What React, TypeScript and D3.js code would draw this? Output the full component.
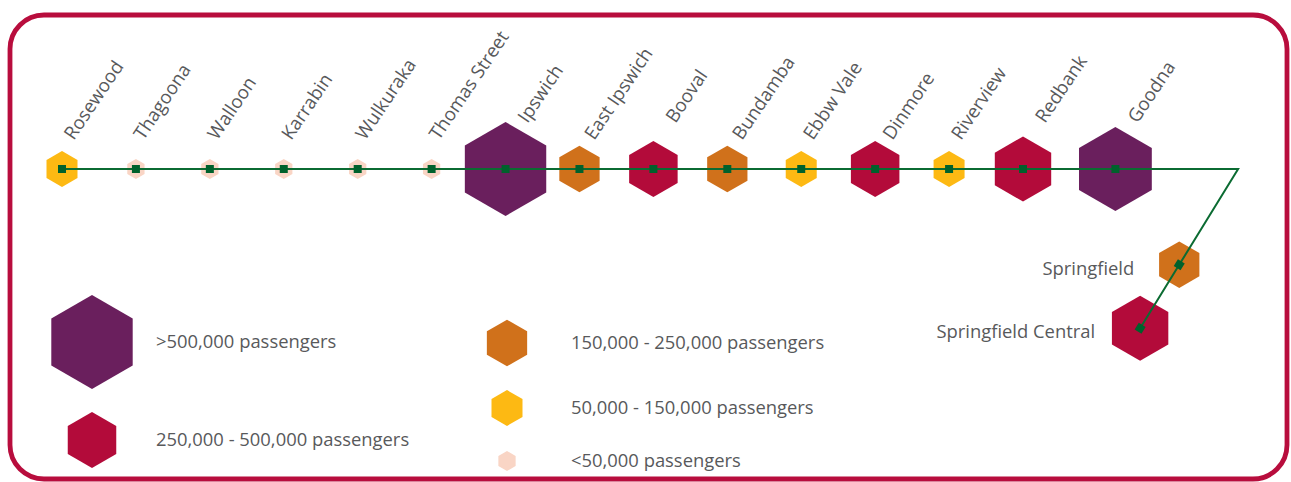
import React from "react";
import * as d3 from "d3";

// ---- Data ----
const mainStations = [
  "Rosewood", "Thagoona", "Walloon", "Karrabin", "Wulkuraka", "Thomas Street",
  "Ipswich", "East Ipswich", "Booval", "Bundamba", "Ebbw Vale", "Dinmore",
  "Riverview", "Redbank", "Goodna",
];
const mainPassengers = [
  145000, 45000, 45000, 45000, 45000, 45000,
  1000000, 245000, 355000, 245000, 145000, 355000,
  145000, 480000, 800000,
];
const branchStations = ["Springfield", "Springfield Central"];
const branchPassengers = [245000, 480000];

const bandThresholds = [50000, 150000, 250000, 500000];
const bandColors = ["#F9D5C5", "#FDB913", "#D0711B", "#B30B3A", "#6A1F5D"];

const legendLabels = [
  ">500,000 passengers",
  "250,000 - 500,000 passengers",
  "150,000 - 250,000 passengers",
  "50,000 - 150,000 passengers",
  "<50,000 passengers",
];
const legendSampleValues = [1000000, 355000, 245000, 145000, 45000];

// ---- Component ----
const TEXT = "#58595B";
const FONT = "'Open Sans', sans-serif";

function hexPath(cx: number, cy: number, rad: number): string {
  const pts: [number, number][] = d3.range(6).map((k) => {
    const a = ((-90 + 60 * k) * Math.PI) / 180;
    return [cx + rad * Math.cos(a), cy + rad * Math.sin(a)];
  });
  return d3.line().curve(d3.curveLinearClosed)(pts) as string;
}

export default function App() {
  const W = 1291;
  const H = 482;
  const lineY = 169;

  const x = d3.scaleLinear().domain([0, 13]).range([62, 1023]);
  const r = d3.scaleSqrt().domain([0, 1000000]).range([0, 47]);
  const color = d3
    .scaleThreshold<number, string>()
    .domain(bandThresholds)
    .range(bandColors);

  const step = x(1) - x(0);
  const slotOf = (i: number) => (i < 14 ? i : i + 0.25);
  const cornerSlot = 15.91;
  const corner: [number, number] = [x(cornerSlot), lineY];
  const branchAngleDeg = 121.6;
  const ba = (branchAngleDeg * Math.PI) / 180;
  const branchDist = [1.52, 2.53];

  const raised = new Set(["Ipswich", "Booval", "Redbank", "Goodna"]);

  const main = mainStations.map((name, i) => ({
    name,
    v: mainPassengers[i],
    cx: x(slotOf(i)),
    cy: lineY,
  }));
  const branch = branchStations.map((name, i) => ({
    name,
    v: branchPassengers[i],
    cx: corner[0] + Math.cos(ba) * branchDist[i] * step,
    cy: corner[1] + Math.sin(ba) * branchDist[i] * step,
  }));
  const last = branch[branch.length - 1];

  const trackPath = d3.line()([
    [main[0].cx, lineY],
    corner,
    [last.cx, last.cy],
  ]) as string;

  const legendPos = [
    { cx: 92, cy: 342 },
    { cx: 92, cy: 440 },
    { cx: 507, cy: 343 },
    { cx: 507, cy: 408 },
    { cx: 507, cy: 461 },
  ];

  return (
    <svg
      width={W}
      height={H}
      style={{ position: "absolute", left: 0, top: 0, display: "block", background: "#fff" }}
      fontFamily={FONT}
    >
      <rect
        x={10}
        y={15}
        width={1277}
        height={464}
        rx={34}
        ry={34}
        fill="#fff"
        stroke="#B80D3D"
        strokeWidth={4.8}
      />

      {/* hexagons */}
      {[...main, ...branch].map((s) => (
        <path key={"h" + s.name} d={hexPath(s.cx, s.cy, r(s.v))} fill={color(s.v)} />
      ))}

      {/* track */}
      <path d={trackPath} fill="none" stroke="#0B6B32" strokeWidth={2} />

      {/* station squares */}
      {main.map((s) => (
        <rect key={"s" + s.name} x={s.cx - 4} y={s.cy - 4} width={8} height={8} fill="#00612C" />
      ))}
      {branch.map((s) => (
        <rect
          key={"s" + s.name}
          x={-4}
          y={-4}
          width={8}
          height={8}
          fill="#00612C"
          transform={`translate(${s.cx},${s.cy}) rotate(${branchAngleDeg})`}
        />
      ))}

      {/* main line labels */}
      {main.map((s) => {
        const rad = r(s.v);
        const up = raised.has(s.name);
        const lx = s.cx + (up ? 22 : 0.55 * rad + 2);
        const ly = up ? 124 : 141;
        return (
          <text
            key={"l" + s.name}
            transform={`translate(${lx},${ly}) rotate(-56)`}
            fontSize={18.6}
            fill={TEXT}
          >
            {s.name}
          </text>
        );
      })}

      {/* branch labels */}
      {branch.map((s) => (
        <text
          key={"l" + s.name}
          x={s.cx - 45}
          y={s.cy + 10}
          textAnchor="end"
          fontSize={18.4}
          fill={TEXT}
        >
          {s.name}
        </text>
      ))}

      {/* legend */}
      {legendLabels.map((lab, i) => {
        const p = legendPos[i];
        const v = legendSampleValues[i];
        return (
          <g key={"lg" + i}>
            <path d={hexPath(p.cx, p.cy, r(v))} fill={color(v)} />
            <text x={p.cx + 64} y={p.cy + 6} fontSize={18.4} fill={TEXT}>
              {lab}
            </text>
          </g>
        );
      })}
    </svg>
  );
}
